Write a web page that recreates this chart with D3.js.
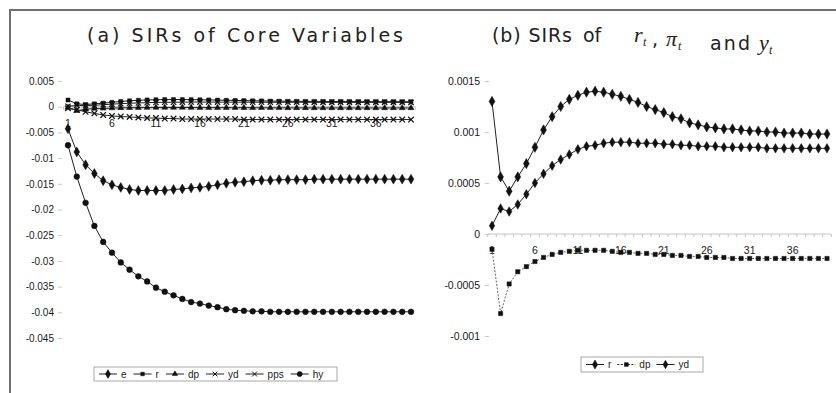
<!DOCTYPE html>
<html>
<head>
<meta charset="utf-8">
<script src="https://cdn.jsdelivr.net/npm/d3@7"></script>
<style>
body { margin: 0; background: #fff; }
svg { display: block; font-family: "Liberation Sans", Arial, sans-serif; }
</style>
</head>
<body>
<svg id="chart" width="836" height="393"></svg>
<script>
// periods 1..40
const periods = d3.range(1, 41);
const xTickLabels = [1, 6, 11, 16, 21, 26, 31, 36];

// panel (a) values
const e = [-0.0043, -0.0088, -0.0113, -0.013, -0.0144, -0.0152, -0.0157, -0.0161, -0.0163, -0.0163,
  -0.0163, -0.0163, -0.0161, -0.016, -0.0158, -0.0157, -0.0155, -0.0152, -0.0149, -0.0147,
  -0.0146, -0.0144, -0.0143, -0.0143, -0.0142, -0.0142, -0.0142, -0.0142, -0.0141, -0.0141,
  -0.0141, -0.0141, -0.0141, -0.0141, -0.0141, -0.0141, -0.0141, -0.0141, -0.0141, -0.0141];
const pps = [-0.0003, -0.0006, -0.001, -0.0013, -0.0016, -0.0018, -0.0019, -0.002, -0.0021, -0.0022,
  -0.0022, -0.0023, -0.0023, -0.0024, -0.0024, -0.0024, -0.0024, -0.0024, -0.0024, -0.0024,
  -0.0025, -0.0025, -0.0025, -0.0025, -0.0025, -0.0025, -0.0025, -0.0025, -0.0025, -0.0025,
  -0.0025, -0.0025, -0.0025, -0.0025, -0.0025, -0.0025, -0.0025, -0.0025, -0.0025, -0.0025];
const hy = [-0.0075, -0.0136, -0.0187, -0.0232, -0.0263, -0.0284, -0.0303, -0.0317, -0.033, -0.034,
  -0.0352, -0.036, -0.0367, -0.0374, -0.038, -0.0383, -0.0387, -0.039, -0.0394, -0.0396,
  -0.0397, -0.0398, -0.0398, -0.0399, -0.0399, -0.0399, -0.0399, -0.0399, -0.0399, -0.0399,
  -0.0399, -0.0399, -0.0399, -0.0399, -0.0399, -0.0399, -0.0399, -0.0399, -0.0399, -0.0399];

// shared by both panels
const r = [0.0013, 0.00056, 0.00042, 0.00056, 0.00069, 0.00085, 0.00102, 0.00115, 0.00125, 0.00132,
  0.00136, 0.00139, 0.0014, 0.00139, 0.00137, 0.00135, 0.00132, 0.00129, 0.00125, 0.00122,
  0.00119, 0.00115, 0.00113, 0.00109, 0.00107, 0.00105, 0.00104, 0.00103, 0.00103, 0.00102,
  0.00101, 0.00101, 0.001, 0.001, 0.00099, 0.00099, 0.00099, 0.00098, 0.00098, 0.00098];
const dp = [-0.00015, -0.00078, -0.00049, -0.00037, -0.00032, -0.00027, -0.00023, -0.0002, -0.00018, -0.00017,
  -0.00016, -0.00016, -0.00016, -0.00016, -0.00017, -0.00018, -0.00018, -0.00019, -0.00019, -0.0002,
  -0.0002, -0.00021, -0.00021, -0.00022, -0.00022, -0.00023, -0.00023, -0.00023, -0.00024, -0.00024,
  -0.00024, -0.00024, -0.00024, -0.00024, -0.00024, -0.00024, -0.00024, -0.00024, -0.00024, -0.00024];
const yd = [0.00008, 0.00025, 0.00022, 0.00029, 0.00039, 0.0005, 0.00059, 0.00067, 0.00073, 0.00078,
  0.00083, 0.00086, 0.00087, 0.00089, 0.0009, 0.0009, 0.0009, 0.00089, 0.00089, 0.00089,
  0.00088, 0.00088, 0.00087, 0.00087, 0.00086, 0.00086, 0.00086, 0.00085, 0.00085, 0.00085,
  0.00085, 0.00085, 0.00084, 0.00084, 0.00084, 0.00084, 0.00084, 0.00084, 0.00084, 0.00084];

const leftTicks = [0.005, 0, -0.005, -0.01, -0.015, -0.02, -0.025, -0.03, -0.035, -0.04, -0.045];
const rightTicks = [0.0015, 0.001, 0.0005, 0, -0.0005, -0.001];

const svg = d3.select("#chart");

// outer frame
svg.append("path")
  .attr("d", "M10,393 V10 H836")
  .attr("fill", "none")
  .attr("stroke", "#6f6f6f")
  .attr("stroke-width", 2);

function fmt(d) {
  return d === 0 ? "0" : String(+d.toFixed(5));
}

function marker(type, size) {
  return d3.symbol().type(type).size(size)();
}

function drawPanel(p) {
  const g = svg.append("g");
  const x = d3.scalePoint().domain(periods).range(p.xRange).padding(0.5);
  const y = d3.scaleLinear().domain(p.yDomain).range(p.yRange);
  const step = x.step();

  // y axis: ticks only
  const ya = g.append("g")
    .attr("transform", `translate(${p.yAxisX},0)`)
    .call(d3.axisLeft(y).tickValues(p.yTicks).tickFormat(fmt).tickSize(4).tickPadding(p.pad));
  ya.select(".domain").remove();
  ya.selectAll(".tick line").attr("stroke", "#c8c8c8");
  ya.selectAll("text").attr("font-size", p.yFont).attr("fill", "#1a1a1a")
    .attr("font-family", "Liberation Sans, Arial, sans-serif");

  // x axis at zero
  const y0 = y(0);
  g.append("line")
    .attr("x1", x.range()[0]).attr("x2", x.range()[1])
    .attr("y1", y0).attr("y2", y0)
    .attr("stroke", "#c4c4c4");
  g.selectAll(".xt").data(d3.range(0, 41)).enter().append("line")
    .attr("x1", i => x.range()[0] + i * step).attr("x2", i => x.range()[0] + i * step)
    .attr("y1", y0).attr("y2", y0 + 3)
    .attr("stroke", "#c4c4c4");
  g.selectAll(".xl").data(xTickLabels).enter().append("text")
    .attr("x", d => x(d)).attr("y", y0 + 20)
    .attr("text-anchor", "middle")
    .attr("font-size", 10.5).attr("fill", "#1a1a1a")
    .text(d => d);

  const line = d3.line().x((d, i) => x(periods[i])).y(d => y(d));
  p.series.forEach(s => {
    g.append("path")
      .datum(s.values)
      .attr("d", line)
      .attr("fill", "none")
      .attr("stroke", s.lineColor || "#222")
      .attr("stroke-width", 1)
      .attr("stroke-dasharray", s.dash || null);
    g.selectAll(null).data(s.values).enter().append("path")
      .attr("transform", (d, i) => `translate(${x(periods[i])},${y(d)})`)
      .attr("d", marker(s.sym, s.size))
      .attr("fill", s.open ? "none" : "#111")
      .attr("stroke", "#111")
      .attr("stroke-width", s.open ? 1.2 : 0.5);
  });

  // legend
  const lg = g.append("g").attr("transform", `translate(${p.legend[0]},${p.legend[1]})`);
  lg.append("rect")
    .attr("height", p.legend[3])
    .attr("width", p.legend[2])
    .attr("fill", "#fff")
    .attr("stroke", "#a8a8a8");
  let cx = 5;
  const my = p.legend[3] / 2;
  p.series.forEach(s => {
    lg.append("line").attr("x1", cx).attr("x2", cx + 18).attr("y1", my).attr("y2", my)
      .attr("stroke", "#222").attr("stroke-dasharray", s.dash || null);
    lg.append("path").attr("transform", `translate(${cx + 9},${my})`)
      .attr("d", marker(s.sym, s.size * 0.8))
      .attr("fill", s.open ? "none" : "#111")
      .attr("stroke", "#111").attr("stroke-width", s.open ? 1 : 0.5);
    const t = lg.append("text").attr("x", cx + 22).attr("y", my + 3.5)
      .attr("font-size", 10).attr("fill", "#222").text(s.name);
    cx += 22 + t.node().getComputedTextLength() + p.legendGap;
  });
}

drawPanel({
  xRange: [63.6, 415.4],
  yDomain: [-0.045, 0.005],
  yRange: [338, 81],
  yTicks: leftTicks,
  yAxisX: 62,
  pad: 4,
  yFont: 10,
  legend: [94, 367, 243, 14],
  legendGap: 7,
  series: [
    { name: "e", values: e, sym: d3.symbolDiamond, size: 28 },
    { name: "r", values: r, sym: d3.symbolSquare, size: 16 },
    { name: "dp", values: dp, sym: d3.symbolTriangle, size: 16 },
    { name: "yd", values: yd, sym: d3.symbolX, size: 20, open: true },
    { name: "pps", values: pps, sym: d3.symbolX, size: 22, open: true },
    { name: "hy", values: hy, sym: d3.symbolCircle, size: 26 }
  ]
});

drawPanel({
  xRange: [487.7, 831.3],
  yDomain: [-0.001, 0.0015],
  yRange: [336, 81],
  yTicks: rightTicks,
  yAxisX: 489,
  pad: 5,
  yFont: 10.5,
  legend: [581, 357, 122, 15],
  legendGap: 6,
  series: [
    { name: "r", values: r, sym: d3.symbolDiamond, size: 30 },
    { name: "dp", values: dp, sym: d3.symbolSquare, size: 18, lineColor: "#666", dash: "2,1.5" },
    { name: "yd", values: yd, sym: d3.symbolDiamond, size: 26 }
  ]
});

// titles
const titleFont = "DejaVu Sans, Verdana, sans-serif";
svg.append("text")
  .attr("x", 87).attr("y", 42)
  .attr("font-size", 19).attr("fill", "#222")
  .attr("font-family", titleFont)
  .attr("textLength", 316).attr("lengthAdjust", "spacing")
  .text("(a) SIRs of Core Variables");

const tb = svg.append("text").attr("y", 42).attr("font-size", 19).attr("fill", "#222")
  .attr("font-family", titleFont);
tb.append("tspan").attr("x", 492).attr("textLength", 80).attr("lengthAdjust", "spacing").text("(b) SIRs");
tb.append("tspan").attr("x", 583).text("of");
const ital = { "font-family": "Liberation Serif, Times New Roman, serif", "font-style": "italic" };
function mathVar(sym, xs, xt) {
  const s = tb.append("tspan").attr("x", xs).attr("font-size", 22).text(sym);
  Object.entries(ital).forEach(([k, v]) => s.attr(k, v));
  const t = tb.append("tspan").attr("x", xt).attr("dy", 4).attr("font-size", 12).text("t");
  Object.entries(ital).forEach(([k, v]) => t.attr(k, v));
  tb.append("tspan").attr("dy", -4).text("");
}
mathVar("r", 634, 643);
tb.append("tspan").attr("x", 652).text(",");
mathVar("π", 666, 678);
tb.append("tspan").attr("x", 710).attr("textLength", 40).attr("lengthAdjust", "spacing").text("and");
mathVar("y", 759, 769);
</script>
</body>
</html>
